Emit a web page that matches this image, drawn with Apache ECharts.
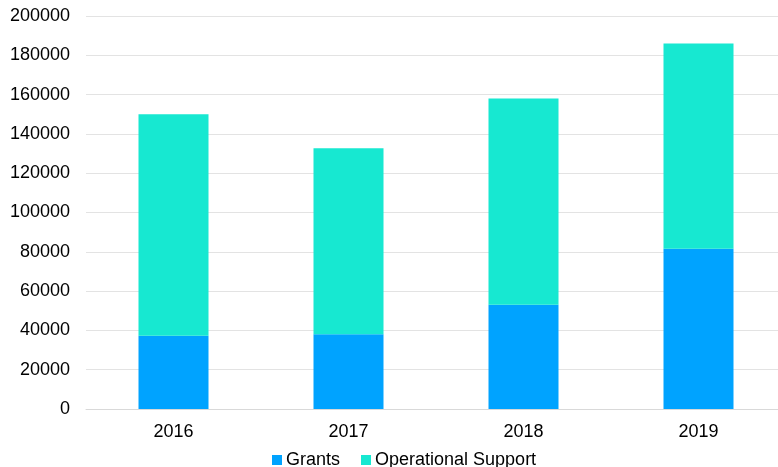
<!DOCTYPE html>
<html><head><meta charset="utf-8">
<script src="https://cdn.jsdelivr.net/npm/echarts@6/dist/echarts.min.js"></script>
<style>html,body{margin:0;padding:0;background:#fff;overflow:hidden;width:778px;height:467px}#c{width:786px;height:467px}</style>
</head><body><div id="c"></div>
<script>
const categories = ['2016', '2017', '2018', '2019'];
const grants = [37300, 38100, 53000, 81600];
const operationalSupport = [112700, 94600, 105000, 104400];
const yTicks = [0, 20000, 40000, 60000, 80000, 100000, 120000, 140000, 160000, 180000, 200000];

const chart = echarts.init(document.getElementById('c'), null, {renderer: 'canvas'});
const font = 'Liberation Sans, Arial, sans-serif';
chart.setOption({
  animation: false,
  textStyle: {fontFamily: font},
  grid: {left: 86, top: 16, right: 0, bottom: 58, containLabel: false},
  legend: {
    bottom: -7, left: 267,
    itemWidth: 10, itemHeight: 10, itemGap: 21,
    icon: 'rect',
    textStyle: {fontSize: 18, color: '#000', fontFamily: font, padding: [0,0,0,-1]},
    data: ['Grants', 'Operational Support']
  },
  xAxis: {
    type: 'category', data: categories,
    axisLine: {lineStyle: {color: '#d9d9d9'}},
    axisTick: {show: false},
    axisLabel: {fontSize: 18, color: '#000', margin: 14, fontFamily: font}
  },
  yAxis: {
    type: 'value', min: yTicks[0], max: yTicks[yTicks.length - 1], interval: 20000,
    axisLine: {show: false}, axisTick: {show: false},
    splitLine: {lineStyle: {color: '#e3e3e3'}},
    axisLabel: {fontSize: 18, color: '#000', margin: 16, fontFamily: font, formatter: v => String(v)}
  },
  series: [
    {name: 'Grants', type: 'bar', stack: 't', data: grants, barWidth: '40%',
     itemStyle: {color: '#00A3FF'}},
    {name: 'Operational Support', type: 'bar', stack: 't', data: operationalSupport, barWidth: '40%',
     itemStyle: {color: '#17E8D1'}}
  ]
});
</script></body></html>
